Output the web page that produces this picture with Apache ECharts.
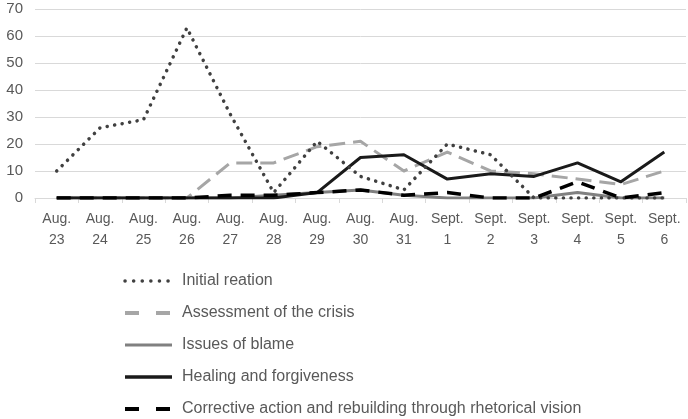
<!DOCTYPE html>
<html><head><meta charset="utf-8">
<script src="https://cdn.jsdelivr.net/npm/echarts@6/dist/echarts.min.js"></script>
<style>html,body{margin:0;padding:0;background:#fff}#c{width:688px;height:419px}</style>
</head><body><div id="c"></div>
<script>
const categories = ['Aug.\n23','Aug.\n24','Aug.\n25','Aug.\n26','Aug.\n27','Aug.\n28','Aug.\n29','Aug.\n30','Aug.\n31','Sept.\n1','Sept.\n2','Sept.\n3','Sept.\n4','Sept.\n5','Sept.\n6'];
const seriesNames = ['Initial reation','Assessment of the crisis','Issues of blame','Healing and forgiveness','Corrective action and rebuilding through rhetorical vision'];
const initialReation = [10,26,29,63,31,2,21,8,3,20,16,0,0,0,0];
const assessment = [0,0,0,0,13,13,19,21,10,17,10,9,7,5,10];
const issuesOfBlame = [0,0,0,0,0,1,2,3,1,0,0,0,2,0,0];
const healing = [0,0,0,0,0,0,2,15,16,7,9,8,13,6,17];
const corrective = [0,0,0,0,1,1,2,3,1,2,0,0,6,0,2];
const yTicks = [0,10,20,30,40,50,60,70];

const font = '"Liberation Sans", Arial, sans-serif';
const chart = echarts.init(document.getElementById('c'));
function mk(name, data, color, width, type, cap, z){
  return {name, type:'line', data, symbol:'none', showSymbol:false, z,
    lineStyle:{color, width, type, cap, join:'round'},
    itemStyle:{color}};
}
chart.setOption({
  animation:false,
  grid:{left:35,right:2,top:9,bottom:221,containLabel:false},
  xAxis:{type:'category',data:categories,boundaryGap:true,
    axisLine:{lineStyle:{color:'#d9d9d9',width:1}},
    axisTick:{show:true,length:5,lineStyle:{color:'#d9d9d9'}},
    axisLabel:{color:'#595959',fontSize:14,fontFamily:font,lineHeight:21,margin:11,interval:0}},
  yAxis:{type:'value',min:yTicks[0],max:yTicks[yTicks.length-1],interval:10,
    axisLine:{show:false},axisTick:{show:false},
    splitLine:{lineStyle:{color:'#d9d9d9',width:1}},
    axisLabel:{color:'#595959',fontSize:15,fontFamily:font,margin:12}},
  legend:{orient:'vertical',left:118,top:268,height:170,itemWidth:47,itemHeight:16,itemGap:16,
    itemStyle:{opacity:0},
    textStyle:{color:'#595959',fontSize:16,fontFamily:font,lineHeight:16,padding:[0,0,0,5]},
    data:[
      {name:seriesNames[0], lineStyle:{type:[0.1,8.5],cap:'round',width:3.5}},
      {name:seriesNames[1], lineStyle:{type:[14,17],width:4}},
      {name:seriesNames[2], lineStyle:{width:3}},
      {name:seriesNames[3], lineStyle:{width:3.5}},
      {name:seriesNames[4], lineStyle:{type:[14,17],width:4}}
    ]},
  series:[
    mk(seriesNames[0], initialReation, '#404040', 3.5, [0.1,7.5], 'round', 5),
    mk(seriesNames[1], assessment, '#a6a6a6', 3, [16,8], 'butt', 2),
    mk(seriesNames[2], issuesOfBlame, '#808080', 3, 'solid', 'butt', 3),
    mk(seriesNames[3], healing, '#1a1a1a', 3, 'solid', 'butt', 4),
    mk(seriesNames[4], corrective, '#000000', 3.5, [14,9], 'butt', 6)
  ]
});
</script></body></html>
